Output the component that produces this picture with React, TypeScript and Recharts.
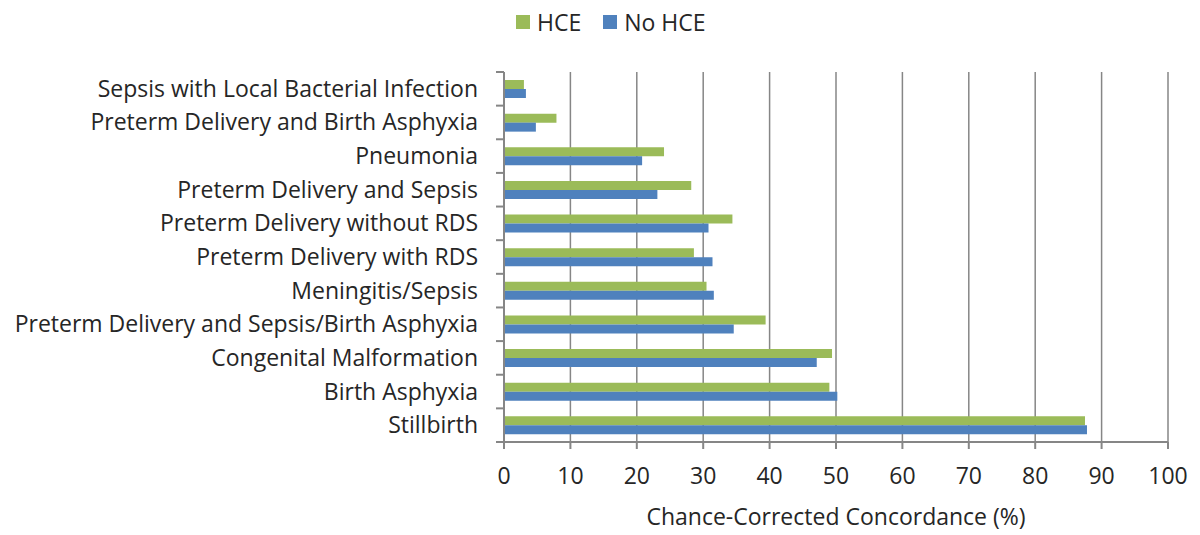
import { BarChart, Bar, XAxis, YAxis, CartesianGrid } from "recharts";

const causes = [
  "Sepsis with Local Bacterial Infection",
  "Preterm Delivery and Birth Asphyxia",
  "Pneumonia",
  "Preterm Delivery and Sepsis",
  "Preterm Delivery without RDS",
  "Preterm Delivery with RDS",
  "Meningitis/Sepsis",
  "Preterm Delivery and Sepsis/Birth Asphyxia",
  "Congenital Malformation",
  "Birth Asphyxia",
  "Stillbirth",
];
const hce = [3.0, 7.9, 24.1, 28.2, 34.4, 28.6, 30.5, 39.4, 49.4, 49.0, 87.5];
const noHce = [3.3, 4.8, 20.8, 23.1, 30.8, 31.4, 31.6, 34.6, 47.1, 50.2, 87.8];
const xTicks = [0, 10, 20, 30, 40, 50, 60, 70, 80, 90, 100];
const seriesNames = ["HCE", "No HCE"];

const data = causes.map((name, i) => ({ name, hce: hce[i], noHce: noHce[i] }));

const FONT = "'Open Sans', sans-serif";
const FS = 23;
const TEXT = "#262626";
const AXIS = "#868686";
const GREEN = "#9BBB59";
const BLUE = "#4F81BD";
const PLOT_H = 370;
const BAND = PLOT_H / causes.length;

// category label plus the Excel-style tick mark between categories
const CategoryTick = (props: any) => {
  const { x, y, payload, index } = props;
  return (
    <g>
      <text
        x={x - 26}
        y={y}
        dy={8}
        textAnchor="end"
        fontSize={FS}
        fontFamily={FONT}
        fill={TEXT}
      >
        {payload.value}
      </text>
      <line x1={x - 8} x2={x} y1={y - BAND / 2} y2={y - BAND / 2} stroke={AXIS} strokeWidth={2} />
      {index === causes.length - 1 && (
        <line x1={x - 8} x2={x} y1={y + BAND / 2} y2={y + BAND / 2} stroke={AXIS} strokeWidth={2} />
      )}
    </g>
  );
};

const legendColors = [GREEN, BLUE];

export default function App() {
  return (
    <div style={{ position: "absolute", left: 0, top: 0, width: 1200, height: 535, background: "#fff" }}>
      <div
        style={{
          position: "absolute",
          top: 6,
          left: 516,
          display: "flex",
          gap: 22,
          fontFamily: FONT,
          fontSize: FS,
          color: TEXT,
          lineHeight: "32px",
        }}
      >
        {seriesNames.map((label, i) => (
          <div key={label} style={{ display: "flex", alignItems: "center", gap: 7 }}>
            <span style={{ width: 14, height: 14, background: legendColors[i], display: "inline-block" }} />
            <span>{label}</span>
          </div>
        ))}
      </div>
      <BarChart
        width={1200}
        height={535}
        data={data}
        layout="vertical"
        margin={{ top: 72, right: 32, bottom: 0, left: 0 }}
        barGap={0}
        barSize={9}
      >
        <CartesianGrid horizontal={false} vertical={true} stroke={AXIS} strokeWidth={1.5} />
        <XAxis
          type="number"
          domain={[0, 100]}
          ticks={xTicks}
          interval={0}
          height={93}
          axisLine={{ stroke: AXIS, strokeWidth: 2 }}
          tickLine={{ stroke: AXIS, strokeWidth: 2 }}
          tickSize={7}
          tickMargin={19}
          tick={{ fontSize: FS, fontFamily: FONT, fill: TEXT }}
          label={{
            value: "Chance-Corrected Concordance (%)",
            position: "insideBottom",
            offset: 10,
            fontSize: FS,
            fontFamily: FONT,
            fill: TEXT,
          }}
        />
        <XAxis
          xAxisId="top"
          orientation="top"
          type="number"
          domain={[0, 100]}
          height={0}
          tick={false}
          tickLine={false}
          axisLine={{ stroke: AXIS, strokeWidth: 2 }}
        />
        <YAxis
          type="category"
          dataKey="name"
          width={504}
          interval={0}
          tickSize={0}
          tickMargin={0}
          tickLine={false}
          axisLine={{ stroke: AXIS, strokeWidth: 2 }}
          tick={<CategoryTick />}
        />
        <Bar dataKey="hce" name={seriesNames[0]} fill={GREEN} isAnimationActive={false} />
        <Bar dataKey="noHce" name={seriesNames[1]} fill={BLUE} isAnimationActive={false} />
      </BarChart>
    </div>
  );
}
